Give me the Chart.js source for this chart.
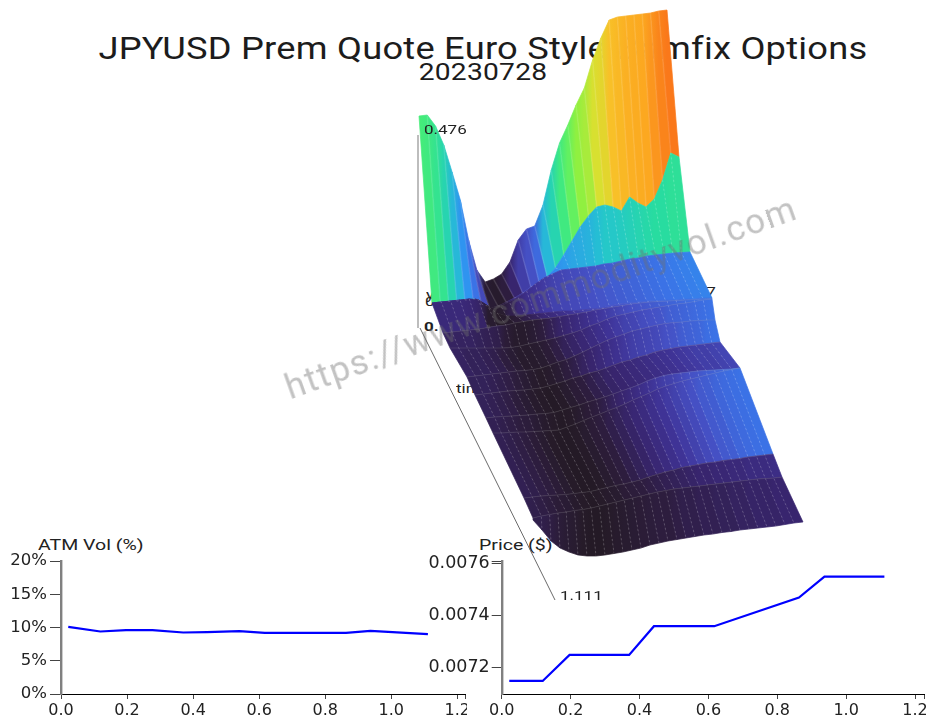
<!DOCTYPE html>
<html><head><meta charset="utf-8">
<script src="https://cdn.jsdelivr.net/npm/chart.js@4"></script>
<style>
html,body{margin:0;padding:0;background:#fff;overflow:hidden}
#page{position:relative;width:926px;height:715px;overflow:hidden;font-family:Roboto,sans-serif;background:#fff;filter:blur(.4px)}
.box{position:absolute}
.t{position:absolute;white-space:nowrap;color:#222;line-height:1;transform-origin:0 50%;transform:scaleX(1.26)}
canvas{display:block}
</style></head><body>
<div id="page">
<div class="t" id="title" style="left:0;width:966px;text-align:center;top:33px;font-size:31px;letter-spacing:.2px;color:#1c1c1c;transform-origin:50% 50%;transform:scaleX(1.17)">JPYUSD Prem Quote Euro Style Bamfix Options</div>
<div class="t" id="sub" style="left:0;width:966px;text-align:center;top:61px;font-size:23.5px;letter-spacing:.2px;color:#1c1c1c;transform-origin:50% 50%;transform:scaleX(1.2)">20230728</div>
<div class="t" style="left:38px;top:538px;font-size:15.5px;">ATM Vol (%)</div>
<div class="t" style="left:479px;top:538px;font-size:15.5px;">Price ($)</div>
<div class="t" style="left:426px;top:288px;font-size:13.5px;">y</div>
<div class="t" style="left:425px;top:295px;font-size:13.5px;">0.</div>
<div class="t" style="left:424px;top:320px;font-size:13.5px;font-weight:700">0.</div>
<div class="t" style="left:456px;top:382px;font-size:13.5px;">time</div>
<div class="t" style="left:673px;top:285px;font-size:13.5px;">1.197</div>
<div class="box" style="left:0;top:0;width:926px;height:715px"><canvas id="axes3d"></canvas></div>
<div class="box" style="left:0;top:535px;width:467px;height:180px"><canvas id="vol"></canvas></div>
<div class="box" style="left:420px;top:535px;width:506px;height:180px"><canvas id="price"></canvas></div>
<div class="box" style="left:0;top:0;width:926px;height:715px"><canvas id="surface"></canvas></div>
<div class="t" style="left:424px;top:123px;font-size:13.5px;">0.476</div>
<div class="t" style="left:560px;top:589px;font-size:13.5px;">1.111</div>
<div class="t" id="wm" style="left:541px;top:298px;font-size:35px;letter-spacing:1.5px;color:rgba(110,110,110,.42);transform-origin:50% 50%;transform:translate(-50%,-50%) rotate(-19.6deg)">https://www.commodityvol.com</div>
</div>
<script>
// ATM term structure
const tenors     = [0.022,0.119,0.197,0.277,0.37,0.442,0.54,0.617,0.863,0.937,1.111];
const atmVol     = [10.1,9.4,9.6,9.6,9.25,9.3,9.45,9.2,9.2,9.5,9.0];
const price      = [0.00715,0.00715,0.00725,0.00725,0.00725,0.00736,0.00736,0.00736,0.00747,0.00755,0.00755];
const volTicks   = [0,5,10,15,20];
const priceTicks = [0.0072,0.0074,0.0076];
const tenorTicks = [0,0.2,0.4,0.6,0.8,1.0,1.2];

// Vol surface, as projected in the picture: one row per expiry, 31 strikes each
const rowLeft  = [419,432,432,432,443,450,467,475,486,493,524,533,533];
const rowRight = [667,679,690,712,712,712,715,720,740,740,773,782,803];
const row0  = [116,115,126,145,172,200,240,270,282,279,274,262,240,229,226,205,170,143,125,105,88,60,38,20,17,16,15,14,13,11,10];
const row1  = [303,302,301.5,301,300,299,304,308,306,302,298,293,287,282,277,268,255,241,227,216,207,205,207,211,197,203,207,199,180,153,157];
const row2  = [303,302,301.5,301,300,299,305,310,306,302,297,291,284,278,274,270,269,268,267,266,264,263,261,259,258,256,255,254,253,252.5,252];
const row3  = [303,302,301,300,299,300,306,313,316,316,315,314,313,312,311,311,310,309,308,306,304,303,302,301,300.5,300,300,299,299,298,298];
const row4  = [333,332,331,330,329,327.5,326,325,323,321.5,320,319,318,316.5,315,313.5,312,310,308.5,307,305.5,304,303,302,301.5,301,300.5,300,299.5,299,298.5];
const row5  = [348,348,348,348,348,348,348,347.5,346,344,342,340,338,335.5,333,330,326,323,319,316,314,312,310,308.5,307,305.5,304,303,301.5,300,299];
const row6  = [377,376,375,374,373,372,371,370.5,369.5,368,365,362,359.5,356,352,348,344,340,337,334,331,329,327,325,323.5,322.5,322,321,320.5,320,320];
const row7  = [395,394,393,392,391,390.5,390,389,388,386,383.5,381,378,376,373,371,368,365,362,360,357,355,352,350,348.5,347,346,345,344,343,342];
const row8  = [418,417,416.5,416,415.5,415,414,413.5,412.5,410,407.5,405,402,399.5,397,394,391,388,385,381,378,375.5,374,373,372,371,370.5,370,369.5,369,368];
const row9  = [433,433,432.5,432,432,431.5,431,430.5,430,427,424,420.5,417,414,410.5,407.5,404,400,396.5,393,389,386,383.5,381,379,377,375,373,371,369.5,368];
const row10 = [498,497,496,495.5,495,494.5,493.5,492.5,491.5,489.5,487.5,485.5,484,482,480,477,474.5,472,470,467.5,466,464.5,463,462,460.5,459.5,458.5,457,456,455,454];
const row11 = [518,516,514.5,513,512,510.5,509.5,508,506,504,502,500,498,496,494,492,490.5,489,488,487,486,485,484,483,482,481,480,479,478.5,478,477];
const row12 = [520,530,541,548,552,555,556,556,555,553.5,552,550,548,545,543,541,539.5,538,536.5,535,534,532.5,531.5,530,529,528,527,526,524.5,523,522];
const rows = [row0,row1,row2,row3,row4,row5,row6,row7,row8,row9,row10,row11,row12];

// Colour level of each strip between two rows
const level0  = [.65,.64,.62,.58,.52,.46,.38,.28,.05,.03,.08,.15,.25,.3,.36,.52,.58,.64,.68,.72,.74,.78,.8,.84,.86,.88,.89,.9,.93,.96,.98];
const level1  = [.6,.6,.6,.6,.6,.5,.08,.04,.05,.1,.2,.25,.3,.36,.4,.44,.47,.49,.5,.51,.53,.55,.55,.56,.57,.58,.59,.6,.6,.61,.61];
const level2  = [.2,.2,.2,.2,.2,.2,.03,.02,.04,.1,.16,.2,.22,.24,.26,.27,.28,.29,.3,.31,.32,.33,.34,.35,.36,.37,.38,.39,.4,.41,.42];
const level3  = [.17,.17,.17,.17,.16,.14,.04,.02,.03,.06,.1,.13,.16,.18,.2,.22,.24,.26,.28,.3,.31,.32,.33,.34,.35,.36,.37,.37,.38,.38,.38];
const level4  = [.13,.13,.13,.13,.12,.11,.1,.06,.03,.03,.05,.08,.11,.14,.16,.18,.2,.22,.24,.26,.28,.3,.31,.32,.33,.34,.35,.36,.37,.37,.38];
const level5  = [.13,.13,.12,.12,.11,.1,.08,.05,.03,.03,.04,.06,.09,.12,.14,.16,.18,.2,.22,.24,.26,.27,.29,.3,.31,.33,.34,.35,.36,.37,.38];
const level6  = [.12,.12,.12,.11,.1,.09,.07,.05,.03,.02,.03,.05,.08,.1,.13,.15,.17,.19,.21,.23,.25,.26,.27,.28,.3,.31,.33,.34,.35,.37,.38];
const level7  = [.12,.12,.11,.1,.09,.07,.05,.03,.02,.01,.02,.04,.06,.08,.1,.12,.14,.15,.16,.17,.18,.19,.2,.21,.22,.23,.24,.25,.25,.26,.27];
const level8  = [.11,.11,.1,.09,.08,.07,.05,.03,.02,.01,.02,.04,.06,.08,.1,.13,.15,.17,.19,.21,.23,.25,.26,.28,.3,.31,.33,.34,.35,.36,.37];
const level9  = [.11,.11,.1,.09,.08,.06,.04,.02,.01,.01,.02,.04,.06,.08,.1,.12,.14,.16,.18,.2,.22,.24,.26,.28,.3,.32,.33,.35,.36,.37,.38];
const level10 = [.11,.1,.09,.08,.06,.05,.03,.02,.01,.02,.03,.04,.06,.07,.08,.09,.1,.11,.12,.13,.14,.15,.15,.16,.16,.17,.17,.18,.18,.18,.19];
const level11 = [.1,.1,.09,.07,.05,.04,.02,.01,.01,.02,.03,.04,.05,.06,.07,.08,.08,.09,.1,.1,.11,.11,.12,.12,.13,.13,.14,.14,.14,.15,.15];
const levels = [level0,level1,level2,level3,level4,level5,level6,level7,level8,level9,level10,level11];

// 3D box axes as seen in the picture
const zAxisX = [418,418], zAxisY = [135,328];
const tAxisX = [420,555], tAxisY = [328,600];

const colourStops = [[0,'#231a22'],[.08,'#2d1d3e'],[.15,'#38256e'],[.22,'#3f3396'],[.3,'#4550c4'],[.38,'#3b72e6'],[.46,'#2f94f0'],[.54,'#24c4d0'],[.6,'#28dca0'],[.66,'#4cf070'],[.72,'#90f040'],[.78,'#d8e030'],[.84,'#f8c028'],[.9,'#fca820'],[1,'#f96c18']];
function hex(c){return [1,3,5].map(i=>parseInt(c.substr(i,2),16));}
function colourAt(v){
  for(let i=1;i<colourStops.length;i++){
    if(v<=colourStops[i][0]){
      const [a,ca]=colourStops[i-1],[b,cb]=colourStops[i],f=(v-a)/(b-a),A=hex(ca),B=hex(cb);
      return 'rgb('+A.map((x,k)=>Math.round(x+(B[k]-x)*f)).join(',')+')';
    }
  }
  return colourStops[colourStops.length-1][1];
}

Chart.defaults.animation=false;
Chart.defaults.responsive=false;
Chart.defaults.font.family='"DejaVu Sans", sans-serif';

function pageScales(){
  return {x:{type:'linear',display:false,min:0,max:926},y:{type:'linear',display:false,min:0,max:715,reverse:true}};
}
function sizeCanvas(id,w,h){const c=document.getElementById(id);c.width=w;c.height=h;c.style.width=w+'px';c.style.height=h+'px';return c;}

// underlying box axes
new Chart(sizeCanvas('axes3d',926,715),{
  type:'scatter',
  data:{datasets:[
    {data:zAxisX.map((x,i)=>({x,y:zAxisY[i]})),showLine:true,borderColor:'#bdbdbd',borderWidth:2,pointRadius:0},
    {data:tAxisX.map((x,i)=>({x,y:tAxisY[i]})),showLine:true,borderColor:'#6a6a6a',borderWidth:1,pointRadius:0}
  ]},
  options:{layout:{padding:0},plugins:{legend:{display:false},tooltip:{enabled:false}},scales:pageScales()}
});

// surface: each row is a line dataset; the strips between the rows are filled from the rows' own points
const strikeCount=row0.length;
const surfacePlugin={
  id:'surfaceStrips',
  beforeDatasetsDraw(chart){
    const ctx=chart.ctx;
    const pts=rows.map((r,i)=>chart.getDatasetMeta(i).data);
    ctx.save();
    ctx.lineJoin='round';
    levels.forEach((lv,s)=>{
      for(let j=0;j<strikeCount-1;j++){
        const a=pts[s][j],b=pts[s][j+1],c=pts[s+1][j+1],d=pts[s+1][j];
        const grad=ctx.createLinearGradient(a.x,0,b.x,0);
        grad.addColorStop(0,colourAt(lv[j]));grad.addColorStop(1,colourAt(lv[j+1]));
        ctx.fillStyle=grad;ctx.strokeStyle=grad;ctx.lineWidth=.7;
        ctx.beginPath();ctx.moveTo(a.x,a.y);ctx.lineTo(b.x,b.y);ctx.lineTo(c.x,c.y);ctx.lineTo(d.x,d.y);ctx.closePath();
        ctx.fill();ctx.stroke();
      }
    });
    // mesh: stripes on the wall, dotted strike lines on the lower sheet
    for(let j=1;j<strikeCount-1;j++){
      ctx.strokeStyle='rgba(255,255,255,.10)';ctx.lineWidth=1.6;ctx.setLineDash([]);
      ctx.beginPath();ctx.moveTo(pts[0][j].x,pts[0][j].y);ctx.lineTo(pts[1][j].x,pts[1][j].y);ctx.stroke();
      ctx.strokeStyle='rgba(255,255,255,.2)';ctx.lineWidth=1;ctx.setLineDash([2,2.5]);
      ctx.beginPath();ctx.moveTo(pts[1][j].x,pts[1][j].y);
      for(let i=2;i<rows.length;i++)ctx.lineTo(pts[i][j].x,pts[i][j].y);
      ctx.stroke();
    }
    ctx.restore();
  }
};
new Chart(sizeCanvas('surface',926,715),{
  type:'scatter',
  plugins:[surfacePlugin],
  data:{datasets:rows.map((r,i)=>({
    data:r.map((y,j)=>({x:rowLeft[i]+(rowRight[i]-rowLeft[i])*j/(strikeCount-1),y})),
    showLine:i>=4&&i<12,borderColor:'rgba(170,170,170,.22)',borderWidth:.8,pointRadius:0
  }))},
  options:{layout:{padding:0},plugins:{legend:{display:false},tooltip:{enabled:false}},scales:pageScales()}
});

// term-structure panels
function panel(id,w,h,values,cfg){
  new Chart(sizeCanvas(id,w,h),{
    type:'scatter',
    data:{datasets:[{data:tenors.map((x,i)=>({x,y:values[i]})),showLine:true,borderColor:'#0000ff',borderWidth:2.2,pointRadius:0,tension:0}]},
    options:{
      layout:{padding:{top:cfg.top,right:0,left:0,bottom:0}},
      clip:false,
      plugins:{legend:{display:false},tooltip:{enabled:false}},
      scales:{
        x:{type:'linear',min:0,max:cfg.xMax,
           afterBuildTicks:s=>{s.ticks=tenorTicks.concat([cfg.xMax]).map(value=>({value}));},
           afterFit:s=>{s.height=cfg.xH;},
           border:{color:'#000',width:1},
           grid:{drawOnChartArea:false,drawTicks:true,tickLength:5,color:'#444'},
           ticks:{maxRotation:0,autoSkip:false,padding:2,color:'#222',font:{size:16},callback:v=>tenorTicks.includes(v)?v.toFixed(1):''}},
        y:{type:'linear',min:cfg.yMin,max:cfg.yMax,
           afterBuildTicks:s=>{s.ticks=cfg.yTicks.map(value=>({value}));},
           afterFit:s=>{s.width=cfg.yW;},
           border:{color:'#808080',width:2.4},
           grid:{drawOnChartArea:false,drawTicks:true,tickLength:cfg.tick,color:'#444'},
           ticks:{padding:cfg.pad,color:'#222',autoSkip:false,font:{size:cfg.size},callback:cfg.fmt}}
      }
    }
  });
}
panel('vol',467,180,atmVol,{top:26,xH:21,yW:61,xMax:1.2233,yMin:0,yMax:20,yTicks:volTicks,tick:11,pad:3,size:16.5,fmt:v=>v+'%'});
panel('price',506,180,price,{top:26,xH:21,yW:81.7,xMax:1.226,yMin:0.00710,yMax:0.00761,yTicks:priceTicks.concat([0.00761]),tick:10,pad:2,size:17.5,fmt:v=>priceTicks.includes(v)?v.toFixed(4):''});
</script>
</body></html>
